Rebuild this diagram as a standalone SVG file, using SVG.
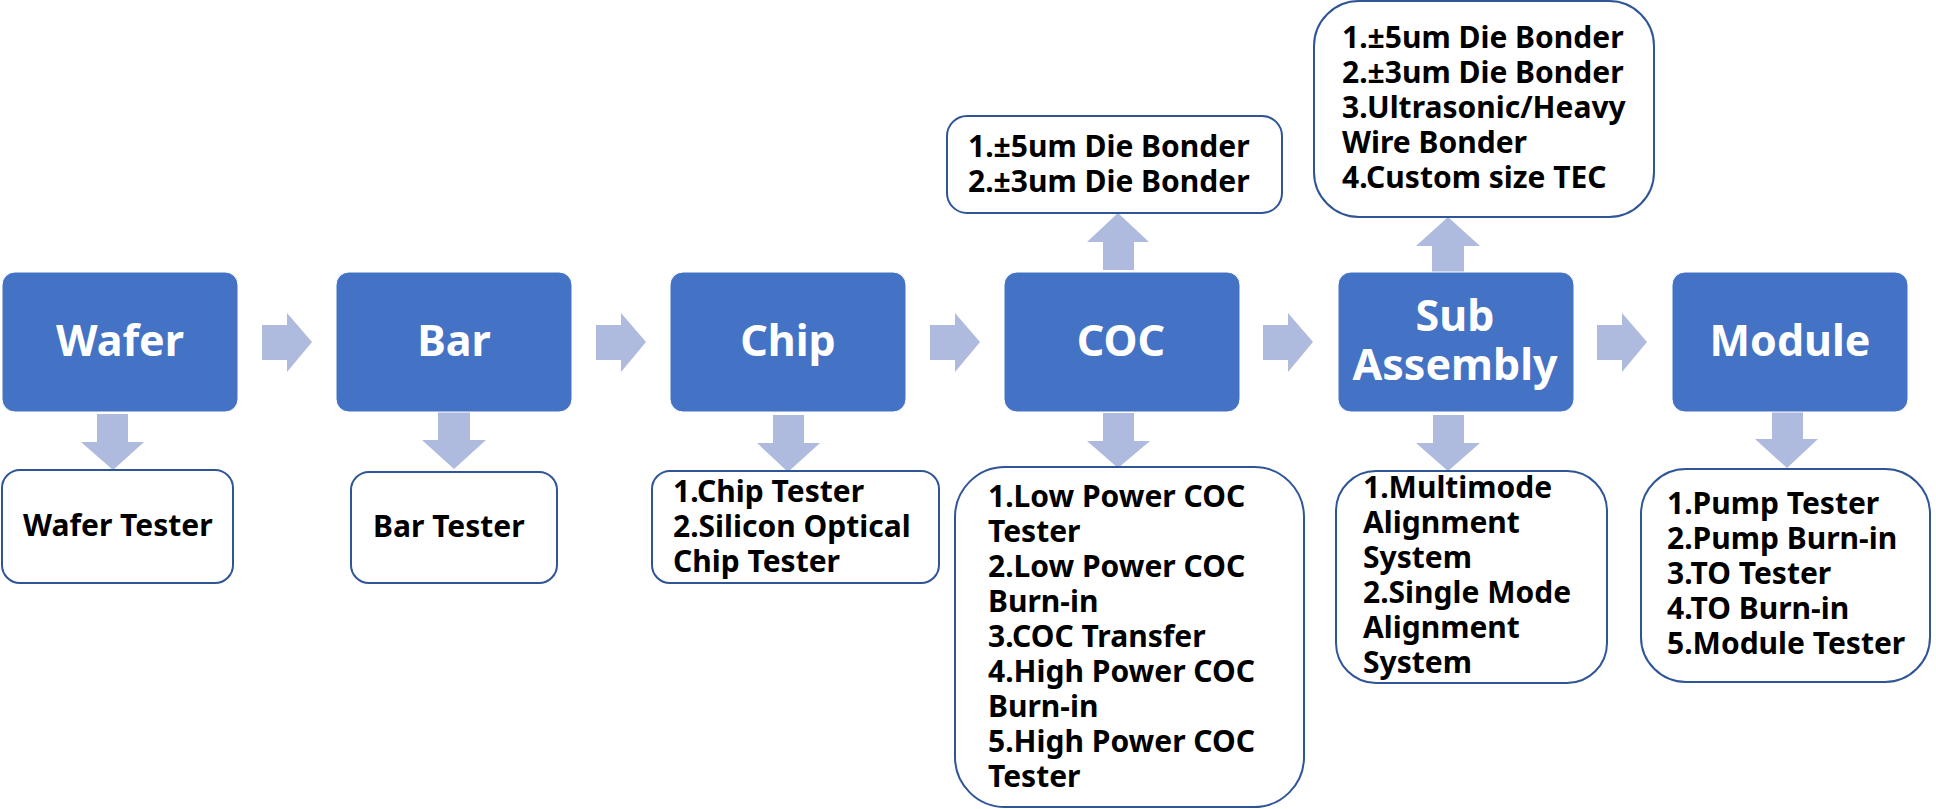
<svg xmlns="http://www.w3.org/2000/svg" width="1936" height="809" viewBox="0 0 1936 809">
<style>
.main{fill:#4472C4;stroke:#ffffff;stroke-width:1}
.sub{fill:#ffffff;stroke:#2F5597;stroke-width:2}
.arr{fill:#AEBBDF;stroke:none}
.title{font-family:"Noto Sans","Open Sans",sans-serif;font-weight:bold;font-size:43px;fill:#ffffff;text-anchor:middle}
.lst{font-family:"Noto Sans","Open Sans",sans-serif;font-weight:bold;font-size:30px;fill:#000000}
</style>
<rect width="1936" height="809" fill="#ffffff"/>
<g id="connectors">
  <polygon class="arr" points="262,325 287,325 287,313 312,342 287,372 287,360 262,360"/>
  <polygon class="arr" points="596,325 621,325 621,313 646,342 621,372 621,360 596,360"/>
  <polygon class="arr" points="930,325 955,325 955,313 980,342 955,372 955,360 930,360"/>
  <polygon class="arr" points="1263,325 1288,325 1288,313 1313,342 1288,372 1288,360 1263,360"/>
  <polygon class="arr" points="1597,325 1622,325 1622,313 1647,342 1622,372 1622,360 1597,360"/>
  <polygon class="arr" points="97,414 128,414 128,442 144,442 113,470 81,442 97,442"/>
  <polygon class="arr" points="438,412 470,412 470,440 486,440 454,469 422,440 438,440"/>
  <polygon class="arr" points="773,415 804,415 804,443 820,443 788,472 757,443 773,443"/>
  <polygon class="arr" points="1103,413 1134,413 1134,441 1150,441 1118,468 1087,441 1103,441"/>
  <polygon class="arr" points="1433,415 1464,415 1464,443 1480,443 1448,471 1416,443 1433,443"/>
  <polygon class="arr" points="1772,412 1803,412 1803,439 1818,439 1787,468 1755,439 1772,439"/>
  <polygon class="arr" points="1103,270 1134,270 1134,242 1149,242 1118,213 1087,242 1103,242"/>
  <polygon class="arr" points="1432,272 1464,272 1464,246 1480,246 1448,217 1416,246 1432,246"/>
</g>
<g id="wafer">
  <rect class="main" x="2" y="272" width="236" height="140" rx="13"/>
  <text class="title" x="120" y="356">Wafer</text>
</g>
<g id="bar">
  <rect class="main" x="336" y="272" width="236" height="140" rx="13"/>
  <text class="title" x="454" y="356">Bar</text>
</g>
<g id="chip">
  <rect class="main" x="670" y="272" width="236" height="140" rx="13"/>
  <text class="title" x="788" y="356">Chip</text>
</g>
<g id="coc">
  <rect class="main" x="1004" y="272" width="236" height="140" rx="13"/>
  <text class="title" x="1121" y="356">COC</text>
</g>
<g id="subassembly">
  <rect class="main" x="1338" y="272" width="236" height="140" rx="13"/>
  <text class="title" x="1455" y="331">Sub</text>
  <text class="title" x="1455" y="380">Assembly</text>
</g>
<g id="module">
  <rect class="main" x="1672" y="272" width="236" height="140" rx="13"/>
  <text class="title" x="1790" y="356">Module</text>
</g>
<g id="wafer-tester">
  <rect class="sub" x="2" y="470" width="231" height="113" rx="18"/>
  <text class="lst" x="23" y="536">Wafer Tester</text>
</g>
<g id="bar-tester">
  <rect class="sub" x="351" y="472" width="206" height="111" rx="18"/>
  <text class="lst" x="373" y="537">Bar Tester</text>
</g>
<g id="chip-tester">
  <rect class="sub" x="652" y="471" width="287" height="112" rx="18"/>
  <text class="lst" x="673" y="502">1.Chip Tester</text>
  <text class="lst" x="673" y="537">2.Silicon Optical</text>
  <text class="lst" x="673" y="572">Chip Tester</text>
</g>
<g id="coc-equipment">
  <rect class="sub" x="955" y="467" width="349" height="340" rx="50"/>
  <text class="lst" x="988" y="507">1.Low Power COC</text>
  <text class="lst" x="988" y="542">Tester</text>
  <text class="lst" x="988" y="577">2.Low Power COC</text>
  <text class="lst" x="988" y="612">Burn-in</text>
  <text class="lst" x="988" y="647">3.COC Transfer</text>
  <text class="lst" x="988" y="682">4.High Power COC</text>
  <text class="lst" x="988" y="717">Burn-in</text>
  <text class="lst" x="988" y="752">5.High Power COC</text>
  <text class="lst" x="988" y="787">Tester</text>
</g>
<g id="sub-equipment">
  <rect class="sub" x="1336" y="471" width="271" height="212" rx="40"/>
  <text class="lst" x="1363" y="498">1.Multimode</text>
  <text class="lst" x="1363" y="533">Alignment</text>
  <text class="lst" x="1363" y="568">System</text>
  <text class="lst" x="1363" y="603">2.Single Mode</text>
  <text class="lst" x="1363" y="638">Alignment</text>
  <text class="lst" x="1363" y="673">System</text>
</g>
<g id="module-equipment">
  <rect class="sub" x="1641" y="469" width="289" height="213" rx="45"/>
  <text class="lst" x="1667" y="514">1.Pump Tester</text>
  <text class="lst" x="1667" y="549">2.Pump Burn-in</text>
  <text class="lst" x="1667" y="584">3.TO Tester</text>
  <text class="lst" x="1667" y="619">4.TO Burn-in</text>
  <text class="lst" x="1667" y="654">5.Module Tester</text>
</g>
<g id="coc-bonders">
  <rect class="sub" x="947" y="116" width="335" height="97" rx="20"/>
  <text class="lst" x="968" y="157">1.±5um Die Bonder</text>
  <text class="lst" x="968" y="192">2.±3um Die Bonder</text>
</g>
<g id="sub-bonders">
  <rect class="sub" x="1314" y="1" width="340" height="216" rx="45"/>
  <text class="lst" x="1342" y="48">1.±5um Die Bonder</text>
  <text class="lst" x="1342" y="83">2.±3um Die Bonder</text>
  <text class="lst" x="1342" y="118">3.Ultrasonic/Heavy</text>
  <text class="lst" x="1342" y="153">Wire Bonder</text>
  <text class="lst" x="1342" y="188">4.Custom size TEC</text>
</g>
</svg>
